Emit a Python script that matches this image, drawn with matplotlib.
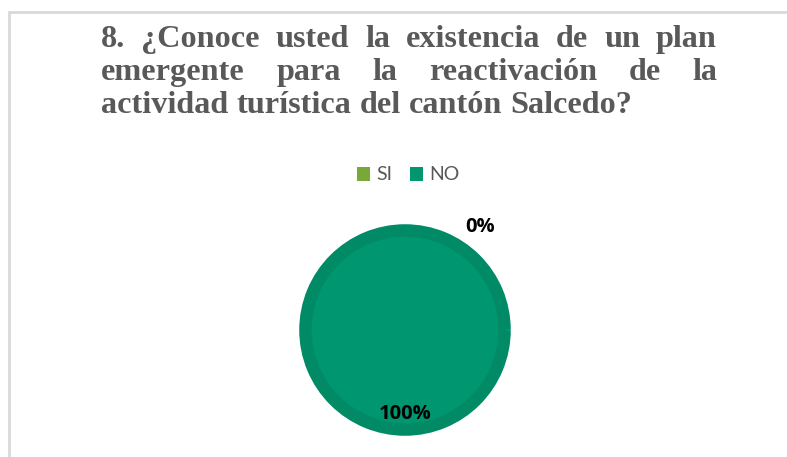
import matplotlib
matplotlib.use("Agg")
import matplotlib.pyplot as plt
from matplotlib.patches import Patch, Rectangle

# data
labels = ["SI", "NO"]
values = [0, 100]
pct_labels = ["0%", "100%"]
colors = ["#78a838", "#00966f"]
edge_colors = ["#6f9c33", "#008b66"]
title_lines = [
    "8. ¿Conoce usted la existencia de un plan",
    "emergente para la reactivación de la",
    "actividad turística del cantón Salcedo?",
]

W, H = 787, 457
fig = plt.figure(figsize=(W / 100, H / 100), dpi=100)
fig.patch.set_facecolor("white")

# chart border (light gray, left and top only visible)
fig.patches.append(Rectangle((9 / W, -0.05), 1.2, (H - 12) / H + 0.05,
                             transform=fig.transFigure, fill=False,
                             edgecolor="#d9d9d9", linewidth=2))

# justified title, word by word
title_font = dict(family="Liberation Serif", weight="bold", size=23.2,
                  color="#595959")
x_left, x_right = 101, 717
baselines = [47, 80, 113]
renderer = fig.canvas.get_renderer()
for i, line in enumerate(title_lines):
    words = line.split()
    texts = []
    widths = []
    for w in words:
        t = fig.text(0, 0, w, va="baseline", ha="left", **title_font)
        bb = t.get_window_extent(renderer)
        texts.append(t)
        widths.append(bb.width)
    if i < len(title_lines) - 1:
        gap = (x_right - x_left - sum(widths)) / (len(words) - 1)
    else:
        sp = fig.text(0, 0, "a a", **title_font)
        sp2 = fig.text(0, 0, "aa", **title_font)
        gap = sp.get_window_extent(renderer).width - sp2.get_window_extent(renderer).width
        sp.remove()
        sp2.remove()
    x = x_left
    for t, w in zip(texts, widths):
        t.set_position((x / W, 1 - baselines[i] / H))
        x += w + gap

# pie
cx, cy, r = 405, 330, 104
ax = fig.add_axes([(cx - r) / W, (H - cy - r) / H, 2 * r / W, 2 * r / H])
wedges, _ = ax.pie(values, colors=colors, startangle=90, counterclock=False,
                   wedgeprops=dict(linewidth=9))
for w, ec in zip(wedges, edge_colors):
    w.set_edgecolor(ec)
ax.set_xlim(-1.045, 1.045)
ax.set_ylim(-1.045, 1.045)
ax.set_aspect("equal")

lab_font = dict(family="Open Sans", weight="bold", size=14.5, color="black")
ax.text(0.75, 1.03, pct_labels[0], ha="center", va="center", **lab_font)
ax.text(0.0, -0.84, pct_labels[1], ha="center", va="center", **lab_font)

# legend
handles = [Patch(facecolor=c, edgecolor="none") for c in colors]
fig.legend(handles, labels, loc="center", bbox_to_anchor=(408 / W, 1 - 175 / H),
           ncol=2, frameon=False, handlelength=0.7, handleheight=0.7,
           handletextpad=0.3, columnspacing=0.9,
           prop=dict(family="Lato", size=14), labelcolor="#595959")

fig.savefig("out.png", dpi=100)
